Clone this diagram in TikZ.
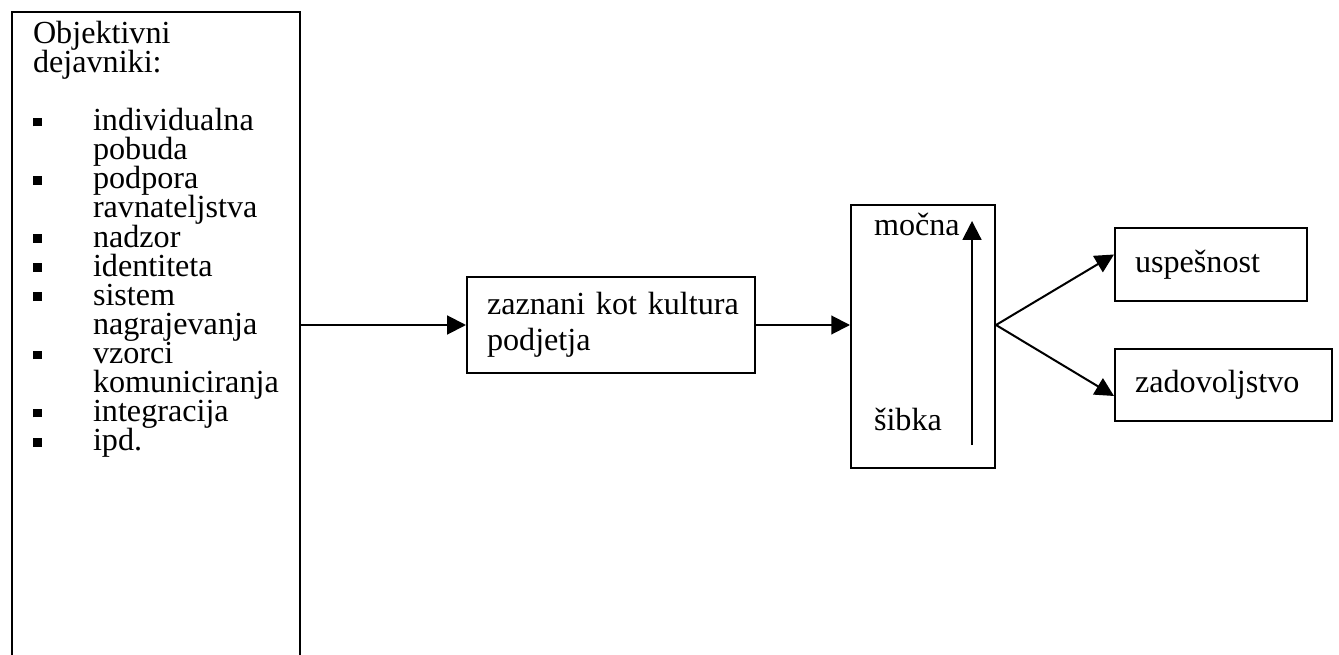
\documentclass[tikz,border=0pt]{standalone}
\usepackage{fontspec}
\setmainfont{Liberation Serif}
\usetikzlibrary{arrows.meta}

\newlength\pxu
\setlength\pxu{0.3731pt}
\newcommand\sqitem{\makebox[60\pxu][l]{\rule[1.6pt]{3.2pt}{3.2pt}}}
\newcommand\sqcont{\hspace*{60\pxu}}

\begin{document}
\begin{tikzpicture}[x=\pxu, y=-\pxu, line width=0.75pt,
    font=\fontsize{12}{13.4}\selectfont,
    box/.style={draw, rectangle, inner xsep=20\pxu, inner ysep=0pt, align=left},
    arr/.style={-{Triangle[length=7pt,width=7pt]}}]
  \useasboundingbox (0,0) rectangle (1339,655);
  \clip (0,0) rectangle (1339,655);
  % left box runs off the bottom of the page
  \node [box, anchor=north west, minimum width=288\pxu, minimum height=700\pxu] (factors) at (11,11) {};
  \node [anchor=north west, inner sep=0pt, align=left,
    font={\fontsize{12}{10.86}\selectfont\lineskiplimit=-10pt}] (factlist) at (32,20) {%
    Objektivni\\
    dejavniki:\\[10.86pt]
    \sqitem individualna\\
    \sqcont pobuda\\
    \sqitem podpora\\
    \sqcont ravnateljstva\\
    \sqitem nadzor\\
    \sqitem identiteta\\
    \sqitem sistem\\
    \sqcont nagrajevanja\\
    \sqitem vzorci\\
    \sqcont komuniciranja\\
    \sqitem integracija\\
    \sqitem ipd.};
  \node [box, minimum width=288\pxu, minimum height=96\pxu, text width=248\pxu] (perceived) at (611,325) {\mbox{zaznani kot kultura}\\ podjetja};
  % strength of the culture
  \node [box, minimum width=144\pxu, minimum height=263\pxu] (strength) at (923,336.5) {};
  \node [anchor=base west, inner sep=0pt] (strong) at (873,236) {močna};
  \node [anchor=base west, inner sep=0pt] (weak) at (873,430) {šibka};
  \coordinate (low) at (972,445);
  \coordinate (high) at (972,221);
  \node [box, minimum width=192\pxu, minimum height=73\pxu, text width=152\pxu] (success) at (1211,264.5) {uspešnost};
  \node [box, minimum width=217\pxu, minimum height=72\pxu, text width=177\pxu] (satisf) at (1223.5,385) {zadovoljstvo};
  \coordinate (fork) at (strength.east |- perceived.east);
  \draw [arr] (factors.east |- perceived.west) -- (perceived.west);
  \draw [arr] (perceived.east) -- (perceived.east -| strength.west);
  \draw [arr] (low) -- (high);
  \draw [arr] (fork) -- ([yshift=10\pxu]success.west);
  \draw [arr] (fork) -- ([yshift=-11\pxu]satisf.west);
\end{tikzpicture}
\end{document}
